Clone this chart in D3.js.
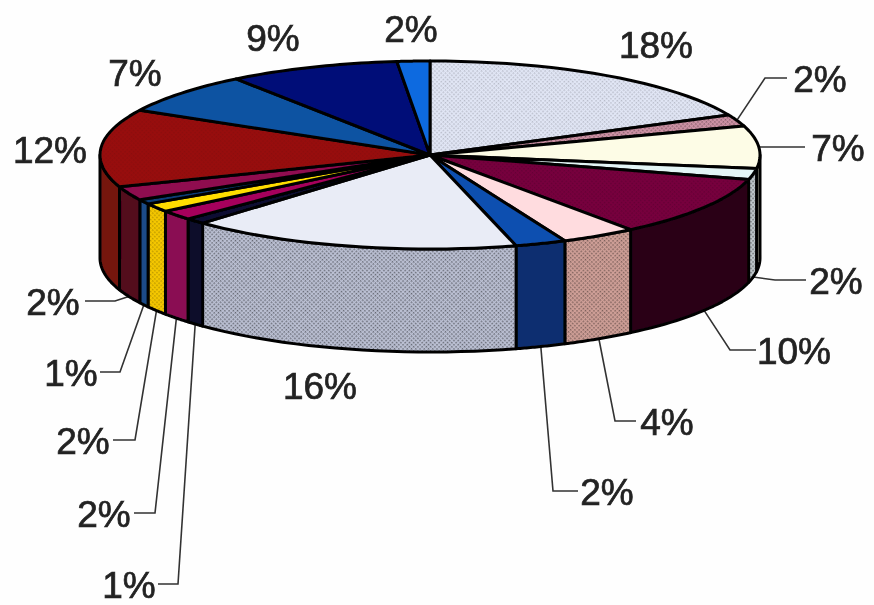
<!DOCTYPE html>
<html><head><meta charset="utf-8">
<script src="https://cdn.jsdelivr.net/npm/d3@7"></script>
<style>html,body{margin:0;padding:0;background:#fefefe}svg{display:block}</style>
</head><body><svg id="c" width="874" height="605"></svg>
<script>
// Data: slices clockwise from 12 o'clock
const values = [18, 2, 7.3, 1.9, 10.4, 3.7, 2.5, 16.3, 1, 1.7, 1.5, 0.8, 2.4, 13.4, 7.1, 8.4, 1.6];
const labels = ["18%","2%","7%","2%","10%","4%","2%","16%","1%","2%","2%","1%","2%","12%","7%","9%","2%"];
// Styles: *Dots is the strength of the printed dither (0 = flat colour)
const topColors  = ["#e2e7f6","#cf93a6","#fdfce6","#e3f5f5","#78003e","#ffdcdf","#0b4fb0","#e9ecf6","#0a0a30","#a6045c","#ffdd00","#0b3c78","#8f0850","#981010","#0c52a2","#020a78","#0c6ae0"];
const topDots    = [0.6,1.2,0,0,0.5,0,0,0,0,0,0,0,0,0.25,0,0,0];
const sideColors = ["#b8bed0","#a07080","#c8c8b0","#c0c8cc","#2c0018","#d0a098","#0a2e70","#bcc1d4","#080c2c","#8a0a52","#f6c800","#1a4c88","#52081e","#741510","#0a3a78","#02065a","#0a4ab0"];
const sideDots   = [0,0,0,1.8,0,1.5,0,1.8,0,0,0.8,0,0,0,0,0,0];
// Layout
const cx = 430, cy = 155, rx = 330, ry = 94, depth = 103;
const labelX = [656,820,838,836,794,667,607,320,129,104,83,71,53,50,135,273,411];
const labelY = [45,79,148,281,351,422,492,386,585,514,441,373,302,150,73,38,29];
// Leader: elbow is the x where the horizontal run starts, end the x where it stops
const leaderElbow = [null,765,null,775,730,615,553,null,178,155,135,120,115,null,null,null,null];
const leaderEnd   = [null,787,805,806,756,636,578,null,158,134,113,100,85,null,null,null,null];
const leaderOnTop = [0,1,1,0,0,0,0,0,0,0,0,0,0,0,0,0,0];

const svg = d3.select("#c");
const defs = svg.append("defs");
defs.append("filter").attr("id","scan").attr("x",0).attr("y",0).attr("width",1).attr("height",1)
  .append("feGaussianBlur").attr("stdDeviation",0.6);
function dotted(id, base, k){
  const p = defs.append("pattern").attr("id",id).attr("patternUnits","userSpaceOnUse")
    .attr("width",3).attr("height",3).attr("patternTransform","rotate(45)");
  p.append("rect").attr("width",3).attr("height",3).attr("fill",base);
  p.append("rect").attr("width",1.5).attr("height",1.5).attr("fill",d3.color(base).darker(k).formatHex());
  return `url(#${id})`;
}
const arcs = d3.pie().sort(null).value(d=>d).startAngle(0).endAngle(2*Math.PI)(values);
const pt = (a, dz=0) => [cx + rx*Math.sin(a), cy - ry*Math.cos(a) + dz];
const samples = (a0,a1) => d3.range(0,25).map(i => a0 + (a1-a0)*i/24);
const line = d3.line();
const g = svg.append("g").attr("filter","url(#scan)");

// Leader lines, under the pie
const lg = g.append("g").attr("fill","none").attr("stroke","#333").attr("stroke-width",1.6);
arcs.forEach((d,i)=>{
  if(leaderEnd[i]==null) return;
  const mid = (d.startAngle+d.endAngle)/2;
  const s = pt(mid, leaderOnTop[i]?0:depth);
  const y = labelY[i]-1;
  const pts = leaderElbow[i]==null ? [s,[leaderEnd[i],s[1]]] : [s,[leaderElbow[i],y],[leaderEnd[i],y]];
  lg.append("path").attr("d",line(pts));
});

// Side wall, front half only
const front0 = Math.PI/2, front1 = 3*Math.PI/2;
arcs.forEach((d,i)=>{
  const a0 = Math.max(d.startAngle,front0), a1 = Math.min(d.endAngle,front1);
  if(a1<=a0) return;
  const s = samples(a0,a1);
  const pts = s.map(a=>pt(a)).concat(s.slice().reverse().map(a=>pt(a,depth)));
  g.append("path").attr("d",line(pts)+"Z")
    .attr("fill", sideDots[i]?dotted("sd"+i,sideColors[i],sideDots[i]):sideColors[i])
    .attr("stroke","#050505").attr("stroke-width",3).attr("stroke-linejoin","round");
});

// Top surface
arcs.forEach((d,i)=>{
  const pts = [[cx,cy]].concat(samples(d.startAngle,d.endAngle).map(a=>pt(a)));
  g.append("path").attr("d",line(pts)+"Z")
    .attr("fill", topDots[i]?dotted("td"+i,topColors[i],topDots[i]):topColors[i])
    .attr("stroke","#050505").attr("stroke-width",3).attr("stroke-linejoin","round");
});

// Labels
g.append("g").selectAll("text").data(labels).join("text")
  .attr("x",(d,i)=>labelX[i]).attr("y",(d,i)=>labelY[i])
  .attr("text-anchor","middle").attr("dominant-baseline","central")
  .attr("font-family","'Liberation Sans',Arial,sans-serif").attr("font-size",37)
  .attr("fill","#222").attr("stroke","#222").attr("stroke-width",0.7).text(d=>d);
</script></body></html>
